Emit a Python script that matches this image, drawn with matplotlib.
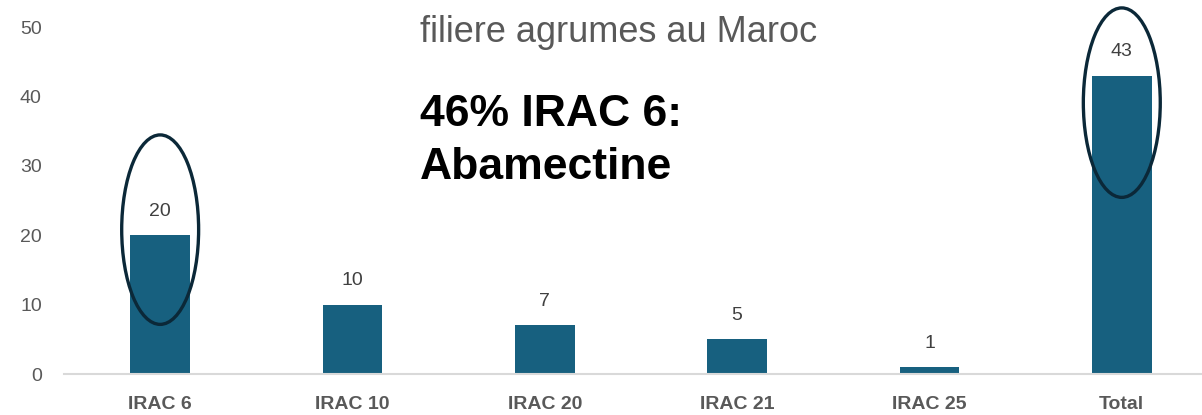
import matplotlib.pyplot as plt
from matplotlib.patches import Ellipse

categories = ['IRAC 6', 'IRAC 10', 'IRAC 20', 'IRAC 21', 'IRAC 25', 'Total']
values = [20, 10, 7, 5, 1, 43]
# circled bars: (index, centre of the circle in data units)
highlight = [(0, 20.8), (5, 39.1)]

plt.rcParams['font.family'] = ['Liberation Sans', 'DejaVu Sans']

fig = plt.figure(figsize=(12.02, 4.15), dpi=100)
ax = fig.add_axes([64 / 1202, 41 / 415, 1 - 64 / 1202, 347 / 415])

x = list(range(len(categories)))
bars = ax.bar(x, values, width=0.31, color='#17607f', zorder=2)

for xi, v in zip(x, values):
    ax.annotate(str(v), (xi, v), xytext=(0, 11), textcoords='offset points',
                ha='center', va='bottom', fontsize=14, color='#404040')

for i, cy in highlight:
    e = Ellipse((i, cy), width=0.4, height=27.3, fill=False,
                edgecolor='#0b2838', linewidth=2.4, zorder=3, clip_on=False)
    ax.add_patch(e)

ax.set_xlim(-0.5, 5.417)
ax.set_ylim(0, 50)
ax.set_yticks(range(0, 51, 10))
ax.set_xticks(x)
ax.set_xticklabels(categories, fontweight='bold', fontsize=14, color='#595959')
ax.tick_params(axis='y', labelsize=14, labelcolor='#595959', length=0, pad=16)
ax.tick_params(axis='x', length=0, pad=16)

for s in ['top', 'right', 'left']:
    ax.spines[s].set_visible(False)
ax.spines['bottom'].set_color('#d9d9d9')
ax.spines['bottom'].set_linewidth(1.5)

fig.text(619 / 1202, 1 - 33 / 415, 'filiere agrumes au Maroc', ha='center', va='center',
         fontsize=26, color='#595959')
fig.text(420 / 1202, 1 - 141 / 415, '46% IRAC 6:\nAbamectine', ha='left', va='center',
         fontsize=32, fontweight='bold', color='black', linespacing=1.4)

fig.savefig('out.png', dpi=100)
